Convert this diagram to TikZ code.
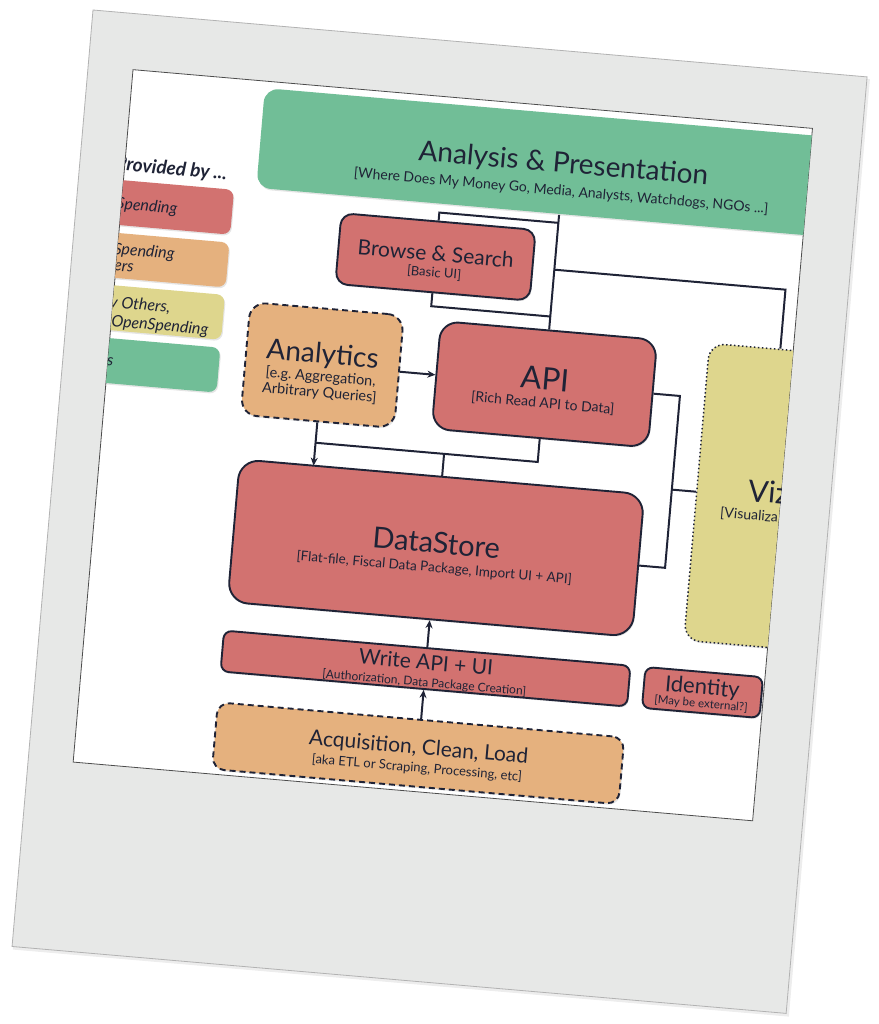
\documentclass[tikz,border=0pt]{standalone}
\usepackage{fontspec}
\setmainfont{Lato}
\usetikzlibrary{arrows.meta,backgrounds,shadows}
\definecolor{ink}{HTML}{1F2336}
\definecolor{boxred}{HTML}{D27270}
\definecolor{boxorange}{HTML}{E5B17E}
\definecolor{boxyellow}{HTML}{DED68D}
\definecolor{boxgreen}{HTML}{71BE97}
\definecolor{card}{HTML}{E7E8E7}
\lineskiplimit=-30pt
\frenchspacing
\tikzset{
  box/.style={rectangle, inner sep=0pt, draw=ink, line width=1.9pt,
    drop shadow={shadow xshift=1pt, shadow yshift=-1.5pt, opacity=.2}},
  redbox/.style={box, fill=boxred},
  orangebox/.style={box, fill=boxorange, dash pattern=on 6pt off 4pt},
  vizbox/.style={box, fill=boxyellow, line width=1.5pt, dash pattern=on 1.5pt off 2.5pt},
  greenbox/.style={box, fill=boxgreen, draw=none},
  keybox/.style={box, draw=none, rounded corners=8pt, minimum width=136pt, minimum height=45pt},
  txt/.style={text=ink, align=center, inner sep=0pt},
  keytxt/.style={text=ink, inner sep=0pt, anchor=west, font=\fontsize{16}{19}\selectfont\itshape},
  conn/.style={draw=ink, line width=2pt},
}
\begin{document}
\begin{tikzpicture}[x=1pt, y=-1pt, >={Stealth[length=8pt,width=7pt]}]
  \begin{scope}[on background layer]
    \fill[white] (0,0) rectangle (878,1024);
  \end{scope}
  \useasboundingbox (0,0) rectangle (878,1024);
  \begin{scope}[shift={(93,10)}, rotate=-4.94, transform shape]
    \begin{scope}[on background layer]
      \fill[black, opacity=.07] (1,2) rectangle (780,943);
      \filldraw[fill=card, draw=gray!60, line width=.8pt] (0,0) rectangle (777,940);
      \filldraw[fill=white, draw=black!70, line width=.8pt] (45,56) rectangle (727,751);
    \end{scope}

    \begin{scope}
      \clip (45,56) rectangle (727,751);
      \node[greenbox, rounded corners=14pt, minimum width=608pt, minimum height=100pt] (present) at (482,113) {};
      \node[txt, font=\fontsize{14}{23}\selectfont] (present-t) at (482,124)
        {{\fontsize{28}{28}\selectfont Analysis \& Presentation}\\[0pt][Where Does My Money Go, Media, Analysts, Watchdogs, NGOs ...]};

      \node[text=ink, inner sep=0pt, anchor=east, font=\fontsize{19}{22}\selectfont\bfseries\itshape] (key-head) at (148,152) {Provided by ...};
      \node[keybox, fill=boxred] (key-red) at (88,189.5) {};
      \node[keybox, fill=boxorange] (key-orange) at (88,242.5) {};
      \node[keybox, fill=boxyellow] (key-yellow) at (88,295) {};
      \node[keybox, fill=boxgreen] (key-green) at (88,348) {};
      \node[keytxt] (key-red-t) at (40,191.5) {Spending};
      \node[keytxt] (key-orange-t1) at (41,237) {Spending};
      \node[keytxt] (key-orange-t2) at (43,254) {ers};
      \node[keytxt] (key-yellow-t1) at (42,290.3) {y Others,};
      \node[keytxt] (key-yellow-t2) at (45,309.3) {OpenSpending};
      \node[keytxt] (key-green-t) at (44,349) {s};

      \node[redbox, rounded corners=12pt, minimum width=195pt, minimum height=71pt] (browse) at (362.5,216.5) {};
      \node[txt, font=\fontsize{13}{16}\selectfont] (browse-t) at (362.5,222)
        {{\fontsize{21}{21}\selectfont Browse \& Search}\\[0pt][Basic UI]};

      \node[orangebox, rounded corners=16pt, minimum width=154pt, minimum height=113pt] (analytics) at (259,334) {};
      \node[txt, font=\fontsize{14.5}{16}\selectfont] (analytics-t) at (258.5,340.5)
        {{\fontsize{28}{28}\selectfont Analytics}\\[2pt][e.g. Aggregation,\\Arbitrary Queries]};

      \node[redbox, rounded corners=18pt, minimum width=217pt, minimum height=108pt] (api) at (482,334) {};
      \node[txt, font=\fontsize{14}{18}\selectfont] (api-t) at (482,338.5)
        {{\fontsize{31}{31}\selectfont API}\\[0pt][Rich Read API to Data]};

      \node[vizbox, rounded corners=16pt, minimum width=142pt, minimum height=298pt] (viz) at (714,428) {};
      \node[txt, anchor=west, font=\fontsize{30}{30}\selectfont] (viz-t) at (694,422) {Viz};
      \node[txt, anchor=west, font=\fontsize{14}{16}\selectfont] (viz-sub) at (668,447) {[Visualiza};

      \node[redbox, rounded corners=20pt, minimum width=406pt, minimum height=143pt] (store) at (388,506.5) {};
      \node[txt, font=\fontsize{13.5}{19}\selectfont] (store-t) at (388,512)
        {{\fontsize{29}{29}\selectfont DataStore}\\[0pt][Flat-file, Fiscal Data Package, Import UI + API]};

      \node[redbox, rounded corners=8pt, minimum width=408pt, minimum height=41pt] (write) at (388,627.5) {};
      \node[txt, font=\fontsize{12}{17}\selectfont] (write-t) at (388,630.5)
        {{\fontsize{21}{21}\selectfont Write API + UI}\\[0pt][Authorization, Data Package Creation]};

      \node[redbox, rounded corners=8pt, minimum width=118pt, minimum height=41pt] (identity) at (666,627.5) {};
      \node[txt, font=\fontsize{11.5}{13}\selectfont] (identity-t) at (665.5,629)
        {{\fontsize{22}{22}\selectfont Identity}\\[0pt][May be external?]};

      \node[orangebox, rounded corners=12pt, minimum width=408pt, minimum height=67pt] (acquire) at (388,712.5) {};
      \node[txt, font=\fontsize{13}{18}\selectfont] (acquire-t) at (388,716)
        {{\fontsize{21}{21}\selectfont Acquisition, Clean, Load}\\[0pt][aka ETL or Scraping, Processing, etc]};
    \end{scope}

    \coordinate (browse-up) at (362.5,172);
    \coordinate (trunk-up) at (482,172);
    \coordinate (browse-dn) at (362.5,266);
    \coordinate (trunk-dn) at (482,266);
    \coordinate (trunk-viz) at (482,219);
    \coordinate (viz-up) at (714,219);
    \coordinate (api-dn) at (482,412);
    \coordinate (analytics-dn) at (259,412);
    \coordinate (store-up) at (388,412);
    \coordinate (store-in) at (259,435);
    \coordinate (api-rt) at (618,334);
    \coordinate (store-rt) at (618,506.5);
    \coordinate (viz-lt) at (618,428);

    \begin{scope}[on background layer]
      \draw[conn] (present.south) -- (api.north);
      \draw[conn] (browse.north) -- (browse-up) -- (trunk-up);
      \draw[conn] (browse.south) -- (browse-dn) -- (trunk-dn);
      \draw[conn] (trunk-viz) -- (viz-up) -- (viz.north);
      \draw[conn,->] (analytics.east) -- (api.west);
      \draw[conn] (api.south) -- (api-dn) -- (analytics-dn);
      \draw[conn] (store.north) -- (store-up);
      \draw[conn,->] (analytics.south) -- (store-in);
      \draw[conn] (api.east) -- (api-rt) -- (store-rt) -- (store.east);
      \draw[conn] (viz-lt) -- (viz.west);
      \draw[conn,->] (write.north) -- (store.south);
      \draw[conn,->] (acquire.north) -- (write.south);
    \end{scope}
  \end{scope}
\end{tikzpicture}
\end{document}
